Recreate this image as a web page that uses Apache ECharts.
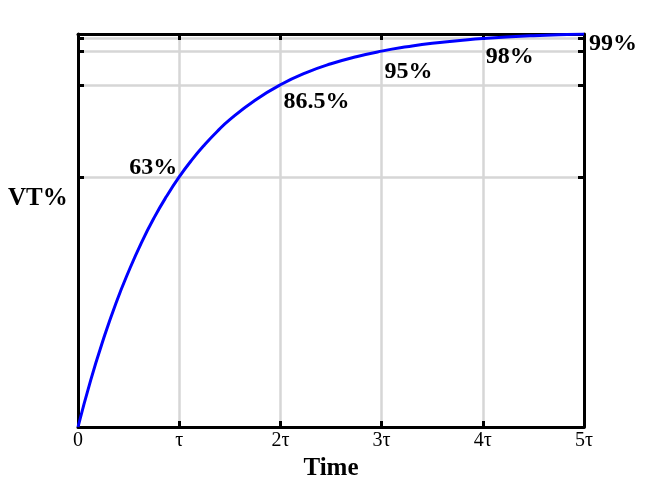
<!DOCTYPE html>
<html>
<head>
<meta charset="utf-8">
<script src="https://cdn.jsdelivr.net/npm/echarts@6/dist/echarts.min.js"></script>
<style>html,body{margin:0;padding:0;background:#fff}#c{width:664px;height:482px}</style>
</head>
<body>
<div id="c"></div>
<script>
// Time in units of tau, and VT%
const timeValues = [0, 0.125, 0.25, 0.375, 0.5, 0.625, 0.75, 0.875, 1, 1.125, 1.25, 1.375, 1.5, 1.75, 2, 2.25, 2.5, 2.75, 3, 3.25, 3.5, 3.75, 4, 4.5, 5];
const vtPercent  = [0, 11.8, 22.1, 31.3, 39.3, 46.5, 52.8, 58.3, 63.2, 67.5, 71.3, 74.7, 77.7, 82.6, 86.5, 89.5, 91.8, 93.6, 95.0, 96.1, 97.0, 97.6, 98.2, 98.9, 99.3];
const xTickLabels = ['0', 'τ', '2τ', '3τ', '4τ', '5τ'];
const yTickValues = [63.2, 86.5, 95.0, 98.2, 99.3];
const markTimes = [1, 2, 3, 4, 5];
const markValues = [63.2, 86.5, 95.0, 98.2, 99.3];
const markLabels = ['63%', '86.5%', '95%', '98%', '99%'];

const serif = '"Liberation Serif", "DejaVu Serif", serif';
const labelStyles = [
  {position: 'left', distance: 2, offset: [0, -9]},
  {position: 'right', distance: 3, offset: [0, 17]},
  {position: 'right', distance: 3, offset: [0, 21]},
  {position: 'right', distance: 3, offset: [0, 18]},
  {position: 'right', distance: 5, offset: [0, 10]}
];

const chart = echarts.init(document.getElementById('c'));
const axisLine = {show: true, onZero: false, lineStyle: {color: '#000', width: 3}};
const tick = {show: true, inside: true, length: 6, lineStyle: {color: '#000', width: 3}};
const split = {show: true, lineStyle: {color: '#d6d6d6', width: 2.5}};

chart.setOption({
  animation: false,
  backgroundColor: '#fff',
  grid: {left: 78, right: 80, top: 34, bottom: 55, containLabel: false, outerBoundsMode: 'none'},
  xAxis: [{
    type: 'value', min: 0, max: 5, interval: 1, position: 'bottom',
    axisLine, axisTick: tick, splitLine: split,
    axisLabel: {color: '#000', fontFamily: serif, fontSize: 20, margin: 4,
      formatter: v => xTickLabels[Math.round(v)]},
    name: 'Time', nameLocation: 'middle', nameGap: 26,
    nameTextStyle: {color: '#000', fontFamily: serif, fontWeight: 'bold', fontSize: 25}
  }, {
    type: 'value', min: 0, max: 5, interval: 1, position: 'top',
    axisLine, axisTick: tick, splitLine: {show: false}, axisLabel: {show: false}
  }],
  yAxis: [{
    type: 'value', min: 0, max: 99.33, position: 'left',
    axisLine, axisTick: Object.assign({}, tick, {customValues: yTickValues}),
    axisLabel: {show: false, customValues: yTickValues},
    splitLine: split
  }, {
    type: 'value', min: 0, max: 99.33, position: 'right',
    axisLine, axisTick: Object.assign({}, tick, {customValues: yTickValues}),
    axisLabel: {show: false, customValues: yTickValues}, splitLine: {show: false}
  }],
  graphic: [{
    type: 'text', left: 8, top: 186,
    style: {text: 'VT%', fill: '#000', font: 'bold 25px ' + serif}
  }],
  series: [{
    type: 'line', xAxisIndex: 0, yAxisIndex: 0,
    data: timeValues.map((t, i) => [t, vtPercent[i]]),
    smooth: true, showSymbol: false, symbol: 'none',
    lineStyle: {color: '#0000ff', width: 3}, z: 3
  }, {
    type: 'scatter', xAxisIndex: 0, yAxisIndex: 0, symbolSize: 0, z: 4,
    itemStyle: {opacity: 1},
    data: markTimes.map((t, i) => ({
      value: [t, markValues[i]],
      label: Object.assign({show: true, formatter: markLabels[i], color: '#000', opacity: 1,
        fontFamily: serif, fontWeight: 'bold', fontSize: 24}, labelStyles[i])
    }))
  }]
});
</script>
</body>
</html>
